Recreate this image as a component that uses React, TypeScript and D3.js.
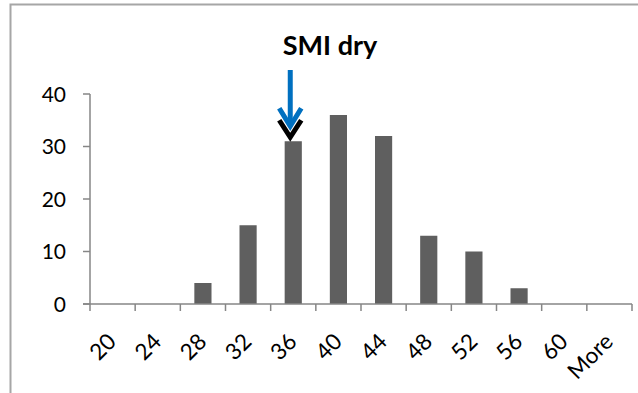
import React from "react";
import * as d3 from "d3";

const categories = ["20", "24", "28", "32", "36", "40", "44", "48", "52", "56", "60", "More"];
const counts = [0, 0, 4, 15, 31, 36, 32, 13, 10, 3, 0, 0];
const yTicks = [0, 10, 20, 30, 40];
const title = "SMI dry";
const markedCategory = "36";

const W = 638;
const H = 393;
const plot = { left: 90, right: 632, top: 94, bottom: 304 };
const FONT = "Lato, 'Open Sans', sans-serif";

export default function App() {
  const x = d3.scaleBand<string>().domain(categories).range([plot.left, plot.right]).paddingInner(0.62).paddingOuter(0.31);
  const xBand = d3.scaleBand<string>().domain(categories).range([plot.left, plot.right]);
  const y = d3.scaleLinear().domain([0, 40]).range([plot.bottom, plot.top]);

  const ax = (xBand(markedCategory) ?? 0) + xBand.bandwidth() / 2 - 3;
  const barTop = y(counts[categories.indexOf(markedCategory)]);

  return (
    <svg width={W} height={H} style={{ position: "absolute", left: 0, top: 0, background: "#fff" }}>
      <rect x={0} y={0} width={W} height={H} fill="#fff" />
      {/* chart frame */}
      <path d={`M10.5,${H + 5} V4.5 H${W + 5}`} fill="none" stroke="#a6a6a6" strokeWidth={2} />

      {/* bars */}
      {categories.map((c, i) => (
        <rect key={c} x={x(c)} y={y(counts[i])} width={x.bandwidth()} height={y(0) - y(counts[i])} fill="#5f5f5f" />
      ))}

      {/* y axis */}
      <line x1={plot.left} x2={plot.left} y1={plot.top} y2={plot.bottom} stroke="#868686" strokeWidth={1.5} />
      {yTicks.map((t) => (
        <g key={t}>
          <line x1={plot.left - 7} x2={plot.left} y1={y(t)} y2={y(t)} stroke="#868686" strokeWidth={1.5} />
          <text x={66} y={y(t)} dy="0.36em" textAnchor="end" fontFamily={FONT} fontSize={21} fill="#000">
            {t}
          </text>
        </g>
      ))}

      {/* x axis */}
      <line x1={plot.left - 7} x2={plot.right} y1={plot.bottom} y2={plot.bottom} stroke="#868686" strokeWidth={1.5} />
      {[...categories.map((c) => xBand(c) ?? 0), plot.right].map((tx, i) => (
        <line key={i} x1={tx} x2={tx} y1={plot.bottom} y2={plot.bottom + 7} stroke="#868686" strokeWidth={1.5} />
      ))}
      {categories.map((c) => {
        const cx = (xBand(c) ?? 0) + xBand.bandwidth() / 2;
        return (
          <text
            key={c}
            transform={`translate(${cx + 5},${plot.bottom + 39}) rotate(-45)`}
            textAnchor="end"
            fontFamily={FONT}
            fontSize={22.5}
            fill="#000"
          >
            {c}
          </text>
        );
      })}

      {/* title */}
      <text x={330} y={55} textAnchor="middle" fontFamily={FONT} fontWeight="bold" fontSize={27} fill="#000">
        {title}
      </text>

      {/* black marker arrow */}
      <path d={`M${ax - 11},${barTop - 21} L${ax},${barTop - 4} L${ax + 11},${barTop - 21}`} fill="none" stroke="#000" strokeWidth={5} />
      {/* blue marker arrow */}
      <line x1={ax} x2={ax} y1={70} y2={barTop - 15} stroke="#0070c0" strokeWidth={5} />
      <path d={`M${ax - 11},${barTop - 33} L${ax},${barTop - 15} L${ax + 11},${barTop - 33}`} fill="none" stroke="#0070c0" strokeWidth={5} />
    </svg>
  );
}
